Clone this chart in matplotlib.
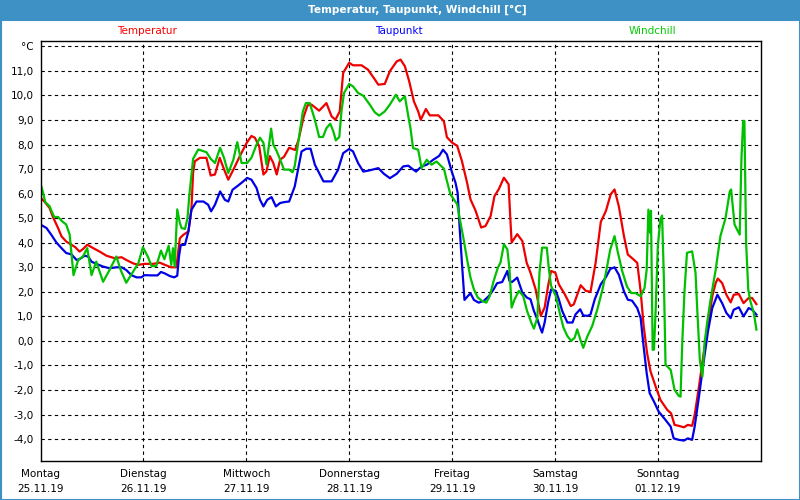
import matplotlib
matplotlib.use("Agg")
import matplotlib.pyplot as plt
from matplotlib.patches import Rectangle

# hours since Monday 00:00, values in °C
red_h = [0, 1, 2.1, 2.9, 4.1, 4.9, 6, 7.2, 8.1, 9.1, 9.9, 10.9, 12.3, 13.8, 15.4, 17.3, 18.9, 20, 21.6, 22.8,
         24.3, 26.3, 27.8, 29, 30.5, 31.7, 32.5, 33.3, 34.5, 35.2, 35.6, 36, 37.2, 38.7, 39.7, 40.7, 41.8, 43, 43.8, 45, 46.5,
         48.1, 49.2, 50, 51, 52, 52.7, 53.5, 54.3, 55.1, 55.9, 56.8, 58, 59.4, 60.2, 61.4, 62.3, 63.2, 65, 66.7, 67.9, 68.8, 69.8, 70.6,
         72, 72.9, 74.9, 76.4, 78, 78.8, 80.3, 81.5, 83.1, 84, 85, 86, 87.1, 88.1, 88.7, 89.9, 90.8, 92.8, 94.1, 94.8,
         96, 97.2, 98.3, 99.5, 100.3, 101.5, 102.8, 103.8, 105, 105.9, 106.9, 108.1, 109.2, 109.6, 109.9, 111.2, 112.4, 113.4, 114.3, 115.5, 116.7, 117.6, 118.4, 119.1,
         120.1, 120.9, 122.3, 123.7, 124.4, 126, 127.2, 128.3, 129.5, 130.7, 131.9, 133, 133.9, 134.9, 136.1, 137, 138.4, 139.2, 140, 140.7, 141.5, 142.3, 143.5,
         144.6, 146.2, 147.1, 147.9, 148.9, 150.1, 151, 152, 152.6, 153.6, 154.7, 155.7, 156.7, 157.5, 158, 159, 160, 161, 161.7, 162.9, 164, 165.2, 166, 167]
red_v = [5.84, 5.66, 5.42, 5.05, 4.6, 4.26, 4.05, 3.92, 3.82, 3.64, 3.74, 3.92, 3.78, 3.64, 3.47, 3.37, 3.41, 3.30, 3.16, 3.1,
         3.14, 3.14, 3.19, 3.1, 3.0, 3.0, 4.18, 4.32, 4.46, 5.35, 6.85, 7.32, 7.46, 7.46, 6.74, 6.78, 7.46, 6.91, 6.57, 6.98, 7.53,
         8.07, 8.35, 8.28, 7.94, 6.78, 6.91, 7.53, 7.25, 6.78, 7.39, 7.5, 7.87, 7.78, 8.2, 9.14, 9.6, 9.63, 9.38, 9.69, 9.15, 9.01, 9.35, 10.92,
         11.33, 11.23, 11.23, 11.05, 10.65, 10.44, 10.47, 10.99, 11.39, 11.46, 11.19, 10.58, 9.76, 9.35, 9.01, 9.45, 9.19, 9.19, 8.95, 8.3,
         8.08, 7.95, 7.33, 6.45, 5.77, 5.3, 4.62, 4.68, 5.09, 5.9, 6.18, 6.65, 6.38, 4.96, 4.01, 4.35, 4.07, 3.19, 2.78, 2.1, 1.02, 1.36, 2.24, 2.85,
         2.78, 2.31, 1.9, 1.42, 1.49, 2.27, 2.04, 2.0, 3.19, 4.85, 5.3, 5.97, 6.17, 5.49, 4.27, 3.52, 3.31, 3.18, 2.02, 0.6, -0.5, -1.24, -1.86,
         -2.4, -2.81, -2.95, -3.42, -3.46, -3.52, -3.42, -3.46, -3.01, -1.86, -0.5, 0.6, 1.82, 2.36, 2.54, 2.36, 1.88, 1.57, 1.88, 1.91, 1.54, 1.75, 1.75, 1.5]

blue_h = [0, 1.4, 2.5, 3.7, 4.9, 6, 7.2, 8.4, 9.1, 10.3, 11.1, 11.9, 13, 14.6, 16.1, 17.7, 18.9, 20, 21.2, 22.4, 23.5,
          24.3, 25.9, 27.3, 28.1, 29, 30.2, 31.2, 31.9, 32.3, 32.7, 33.7, 34.5, 35.2, 36.4, 38, 39.1, 39.8, 40.7, 41.9, 43, 43.8, 44.8, 46.1, 47.3,
          48.2, 49.2, 50.4, 51.2, 52, 52.9, 53.9, 54.9, 55.9, 57, 58, 59.3, 60.9, 62, 63, 64, 65.2, 66, 67.9, 69.4, 70.6,
          72, 72.9, 74.1, 75.3, 76.8, 78.8, 80.1, 81.5, 83.1, 84.6, 85.8, 86.8, 87.6, 88.9, 90.1, 91.6, 93, 93.9, 94.8,
          96, 96.8, 97.3, 97.8, 98.3, 98.9, 99.7, 100.3, 101.1, 102.2, 103.4, 104.6, 105.7, 106.5, 107.7, 108.9, 109.4, 110, 111.2, 112.4, 113.5, 114.3,
          115.1, 115.9, 116.7, 117, 117.6, 118.4, 119.1, 120.2, 120.9, 121.7, 122.9, 124.1, 124.8, 125.9, 126.6, 127.6, 128.3, 129.3, 130.7, 131.9,
          132.9, 133.9, 134.9, 136.1, 137, 138, 139.2, 140, 140.6, 141.4, 142.1, 143.1, 144.2, 145.8, 147, 147.7, 148.9, 150.1, 151, 152, 152.6,
          153.6, 154.7, 155.7, 156.7, 157.9, 159, 160, 161, 161.7, 162.9, 164, 165.2, 166, 167]
blue_v = [4.74, 4.6, 4.33, 4.01, 3.78, 3.58, 3.53, 3.3, 3.33, 3.47, 3.44, 3.23, 3.14, 3.03, 2.96, 3.0, 3.0, 2.89, 2.68, 2.59, 2.59,
          2.68, 2.67, 2.67, 2.81, 2.75, 2.64, 2.59, 2.66, 3.44, 3.9, 3.92, 4.46, 5.34, 5.68, 5.68, 5.55, 5.28, 5.55, 6.09, 5.75, 5.68, 6.16, 6.33, 6.5,
          6.64, 6.57, 6.23, 5.75, 5.48, 5.75, 5.86, 5.48, 5.62, 5.66, 5.68, 6.29, 7.72, 7.83, 7.83, 7.18, 6.77, 6.5, 6.5, 6.97, 7.65,
          7.82, 7.72, 7.24, 6.9, 6.95, 7.04, 6.81, 6.63, 6.81, 7.11, 7.14, 7.0, 6.9, 7.11, 7.18, 7.38, 7.54, 7.79, 7.6,
          6.86, 6.45, 6.04, 4.55, 3.19, 1.67, 1.83, 1.94, 1.67, 1.56, 1.63, 1.83, 2.1, 2.35, 2.4, 2.85, 2.44, 2.4, 2.58, 1.97, 1.76, 1.7,
          1.22, 0.88, 0.47, 0.34, 0.75, 1.56, 2.1, 2.04, 1.7, 1.22, 0.75, 0.75, 1.08, 1.29, 1.04, 1.02, 1.08, 1.7, 2.31, 2.6,
          2.93, 3.0, 2.7, 2.02, 1.68, 1.64, 1.34, 0.93, -0.09, -1.31, -2.13, -2.47, -2.88, -3.22, -3.49, -3.97, -4.03, -4.06, -3.97, -4.03, -3.49,
          -2.27, -0.84, 0.39, 1.34, 1.88, 1.54, 1.14, 0.93, 1.27, 1.37, 1.0, 1.34, 1.27, 1.07]

green_h = [0, 0.6, 1.1, 2.1, 3.2, 4.1, 5, 6, 6.8, 7.7, 8.8, 9.9, 10.9, 11.9, 13, 14.6, 16.1, 17.7, 18.7, 20, 21.6, 22.8, 23.9,
           25.1, 25.9, 27, 28.1, 28.9, 29.9, 30.5, 30.9, 31.3, 31.9, 32.5, 32.9, 33.7, 34.3, 34.7, 35.6, 36.8, 38, 38.7, 39.7, 40.7, 41.9, 42.8, 43.8, 45, 45.9, 46.9,
           48.2, 49.2, 50.4, 51.2, 52, 52.7, 53.8, 54.3, 55.1, 55.9, 56.8, 58, 58.8, 59.3, 60.3, 61.2, 61.9, 62.8, 64, 65, 65.9, 66.7, 67.6, 68.3, 68.9, 69.7, 70.2, 70.8,
           72, 72.9, 74.1, 75.3, 76.8, 78, 79, 80.3, 81.5, 82.9, 83.8, 85, 85.8, 86.3, 86.9, 88.1, 88.9, 90.1, 91.2, 92.4, 93.3, 94.1, 94.8, 95.6,
           96.4, 97.2, 97.9, 98.7, 99.5, 100.3, 101.1, 102, 103, 104, 104.8, 105.7, 106.7, 107.3, 108.1, 108.9, 109.4, 109.9, 110.6, 111.6, 112.6, 113.5, 114.5, 115.1, 115.9, 116.4, 117, 118.1, 118.6, 119.1,
           120.2, 121.2, 122, 122.9, 123.8, 124.6, 125.2, 125.9, 126.6, 127.6, 128.7, 129.9, 131.1, 131.9, 132.9, 133.9, 134.7, 135.7, 136.8, 137.8, 138.8, 140, 140.9, 141.4, 141.8, 142.2, 142.4, 142.8, 143.1, 143.5,
           144, 144.6, 145, 145.4, 145.8, 147, 147.9, 148.9, 149.3, 149.7, 150.2, 150.8, 152, 152.8, 153.2, 153.8, 154.4, 154.9, 155.5, 156.3, 157.5, 158.6, 159.8, 160.8, 161.1, 161.9, 162.7, 163.1, 163.5, 163.9, 164.2, 164.6, 165.1, 165.6, 166.4, 167]
green_v = [6.42, 6.04, 5.66, 5.49, 5.05, 5.05, 4.88, 4.74, 4.33, 2.68, 3.3, 3.44, 3.78, 2.68, 3.23, 2.41, 2.89, 3.44, 2.89, 2.37, 2.82, 3.16, 3.82,
           3.41, 3.05, 3.05, 3.68, 3.33, 3.88, 3.1, 3.78, 3.03, 5.36, 4.81, 4.6, 4.56, 5.01, 5.9, 7.42, 7.8, 7.73, 7.69, 7.42, 7.25, 7.87, 7.46, 6.84, 7.39, 8.1, 7.25,
           7.25, 7.46, 8.0, 8.28, 8.07, 7.19, 8.65, 8.0, 7.73, 7.39, 6.98, 6.98, 6.87, 7.12, 8.3, 9.35, 9.69, 9.69, 9.01, 8.31, 8.31, 8.67, 8.85, 8.54, 8.17, 8.31, 9.35, 10.1,
           10.47, 10.37, 10.1, 9.99, 9.63, 9.31, 9.18, 9.35, 9.63, 10.03, 9.76, 9.97, 9.15, 8.67, 7.86, 7.79, 7.04, 7.38, 7.18, 7.31, 7.15, 7.02, 6.52, 5.98,
           5.77, 5.57, 4.89, 4.14, 3.33, 2.58, 2.1, 1.77, 1.63, 1.56, 1.83, 2.44, 2.99, 3.19, 3.94, 3.73, 2.92, 1.36, 1.7, 2.04, 1.83, 1.22, 0.74, 0.5, 0.95, 2.78, 3.8, 3.8, 2.92, 2.24,
           1.83, 1.08, 0.54, 0.2, 0.0, 0.13, 0.47, 0.07, -0.28, 0.2, 0.61, 1.29, 2.1, 2.78, 3.72, 4.27, 3.59, 2.84, 2.22, 1.95, 1.95, 1.82, 2.16, 2.9, 5.35, 4.4, 5.3, -0.36, -0.36, 1.27,
           3.86, 4.95, 5.11, 2.63, -0.97, -1.18, -1.99, -2.24, -2.27, -0.09, 1.95, 3.59, 3.65, 2.77, 1.27, -0.77, -1.45, -0.09, 0.73, 1.68, 2.9, 4.27, 5.01, 6.1, 6.17, 4.74, 4.47, 4.33, 7.39, 8.96, 8.96, 3.99, 2.09, 1.61, 1.14, 0.46]

days = ["Montag", "Dienstag", "Mittwoch", "Donnerstag", "Freitag", "Samstag", "Sonntag"]
dates = ["25.11.19", "26.11.19", "27.11.19", "28.11.19", "29.11.19", "30.11.19", "01.12.19"]
y_ticks = list(range(-4, 13))

bar_blue = "#3d91c4"
plt.rcParams['font.family'] = ['DejaVu Sans']

fig = plt.figure(figsize=(8, 5), dpi=100)
fig.patch.set_facecolor("white")
# title bar and window frame
fig.patches.append(Rectangle((0, 1 - 20 / 500), 1, 20 / 500, transform=fig.transFigure,
                             facecolor=bar_blue, edgecolor="none", zorder=0))
fig.patches.append(Rectangle((0.5 / 800, 0.5 / 500), 799 / 800, 0.96, transform=fig.transFigure,
                             facecolor="none", edgecolor=bar_blue, linewidth=1.5, zorder=0))
fig.text(417 / 800, 1 - 10 / 500, "Temperatur, Taupunkt, Windchill [°C]", color="white",
         fontsize=7.6, fontweight="bold", ha="center", va="center")

ax = fig.add_axes([40.5 / 800, 39.3 / 500, 720.2 / 800, 420.2 / 500])

ax.plot([h / 24 for h in red_h], red_v, color="#ee0000", lw=1.6)
ax.plot([h / 24 for h in blue_h], blue_v, color="#0000e6", lw=1.6)
ax.plot([h / 24 for h in green_h], green_v, color="#00c000", lw=1.6)

ax.set_xlim(0, 7)
ax.set_ylim(-4.88, 12.24)
ax.set_yticks(y_ticks)
ax.set_yticklabels(["°C" if t == 12 else f"{t:.1f}".replace(".", ",") for t in y_ticks])
ax.set_xticks(range(7))
ax.set_xticklabels([d + "\n" + s for d, s in zip(days, dates)], linespacing=1.6)
ax.tick_params(length=0, labelsize=7.5, colors="black")
ax.tick_params(axis="y", pad=5)
ax.tick_params(axis="x", pad=6)

for t in y_ticks:
    ax.axhline(t, color="black", lw=0.8, ls=(0, (3, 3)), zorder=1)
for d in range(1, 7):
    ax.axvline(d, color="black", lw=0.8, ls=(0, (3, 3)), zorder=1)
for s in ax.spines.values():
    s.set_linewidth(1)

fig.text(147 / 800, 1 - 31 / 500, "Temperatur", color="#ff0000", fontsize=7.5, ha="center", va="center")
fig.text(399 / 800, 1 - 31 / 500, "Taupunkt", color="#0000ff", fontsize=7.5, ha="center", va="center")
fig.text(652 / 800, 1 - 31 / 500, "Windchill", color="#00cc00", fontsize=7.5, ha="center", va="center")

fig.savefig("out.png", dpi=100)
